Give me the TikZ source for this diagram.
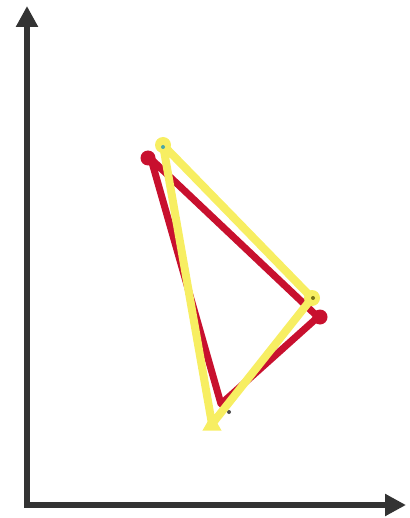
\documentclass[tikz,border=0pt]{standalone}
\usepackage{tikz}
\usetikzlibrary{arrows.meta,shapes.geometric}
\definecolor{redtri}{HTML}{C8102E}
\definecolor{yellowtri}{HTML}{F7EE62}
\definecolor{axisgray}{HTML}{333333}
\tikzset{
  axisline/.style={-{Triangle[length=21pt,width=21pt]}, draw=axisgray, line width=6pt},
  redside/.style={draw=redtri, line width=7pt, line join=round},
  yellowside/.style={draw=yellowtri, line width=8pt, line join=round},
  redjoint/.style={circle, fill=redtri, inner sep=0pt, minimum size=15pt},
  yellowjoint/.style={circle, fill=yellowtri, inner sep=0pt, minimum size=16pt},
  yellowtip/.style={regular polygon, regular polygon sides=3, fill=yellowtri,
    inner sep=0pt, minimum size=22pt},
  vertexdot/.style={circle, inner sep=0pt, minimum size=4pt}
}
\begin{document}
\begin{tikzpicture}[x=1pt, y=-1pt]
  \useasboundingbox (0,0) rectangle (409,518);

  % ============ Axes ============
  \coordinate (origin) at (27,505);
  \coordinate (ytop)   at (27,6);
  \coordinate (xend)   at (406,505);
  \draw[axisline] ([yshift=3pt]origin) -- (ytop);
  \draw[axisline] ([xshift=-3pt]origin) -- (xend);

  % ============ Red triangle ============
  \coordinate (ra) at (151,159);
  \coordinate (rb) at (318,317);
  \coordinate (rc) at (221,404);
  \node[redjoint] (rja) at (148,158) {};
  \node[redjoint] (rjb) at (320,317) {};
  \draw[redside] (ra) -- (rb) -- (rc) -- cycle;
  \node[vertexdot, fill=black!70] (rdc) at (229,412) {};

  % ============ Yellow triangle ============
  \coordinate (ya) at (163,145);
  \coordinate (yb) at (312,298);
  \coordinate (yc) at (212,424);
  \node[yellowtip] (yjc) at (212,425) {};
  \draw[yellowside] (ya) -- (yb) -- (yc) -- cycle;
  \node[yellowjoint] (yja) at (ya) {};
  \node[yellowjoint] (yjb) at (yb) {};
  \node[vertexdot, fill=teal!70] (yda) at (163,147) {};
  \node[vertexdot, fill=olive!80!black] (ydb) at (313,298) {};

\end{tikzpicture}
\end{document}
